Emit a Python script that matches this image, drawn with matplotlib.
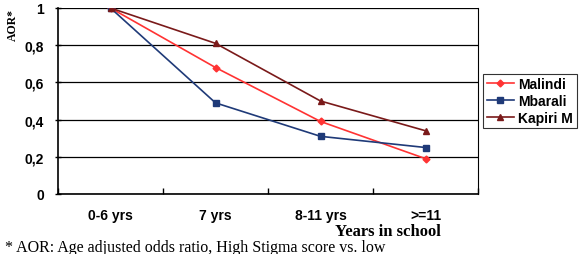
import matplotlib.pyplot as plt
import numpy as np

categories = ['0-6 yrs', '7 yrs', '8-11 yrs', '>=11']
malindi = [1.0, 0.68, 0.39, 0.19]
mbarali = [1.0, 0.49, 0.31, 0.25]
kapiri = [1.0, 0.81, 0.50, 0.34]

fig = plt.figure(figsize=(5.79, 2.55), dpi=100)
ax = fig.add_axes([58 / 579, 1 - 195 / 255, 420 / 579, 186 / 255])

x = np.arange(len(categories))
ax.plot(x, malindi, color='#ff3333', marker='D', markersize=3.5, lw=1.2, label='Malindi')
ax.plot(x, mbarali, color='#1f3a78', marker='s', markersize=4, lw=1.2, label='Mbarali')
ax.plot(x, kapiri, color='#7a1a1a', marker='^', markersize=5, lw=1.2, label='Kapiri M')

tick_font = dict(fontfamily='Liberation Sans', fontweight='bold', fontsize=10)
ax.set_xlim(-0.5, len(categories) - 0.5)
ax.set_ylim(0, 1)
ax.set_yticks(np.arange(0, 1.01, 0.2))
ax.set_yticklabels(['0', '0,2', '0,4', '0,6', '0,8', '1'], **tick_font)
ax.set_xticks(x)
ax.set_xticklabels(categories, **tick_font)
ax.set_xticks(np.arange(-0.5, len(categories), 1), minor=True)
ax.tick_params(axis='x', which='major', length=0, pad=10)
ax.tick_params(axis='x', which='minor', length=4, direction='in', width=1)
ax.tick_params(axis='y', length=4, direction='inout', width=1, pad=8)
ax.grid(axis='y', color='black', lw=0.9)
ax.set_axisbelow(True)
for side in ['left', 'bottom']:
    ax.spines[side].set_linewidth(1.2)
ax.spines['top'].set_visible(False)
ax.spines['right'].set_linewidth(0.8)

fig.text(13 / 579, 1 - 25 / 255, 'AOR*', rotation=90, ha='center', va='center',
         fontfamily='Liberation Serif', fontweight='bold', fontsize=8.5)
fig.text(388 / 579, 1 - 232 / 255, 'Years in school', ha='center', va='center',
         fontfamily='Liberation Serif', fontweight='bold', fontsize=12)

leg = ax.legend(loc='center left', bbox_to_anchor=(1.012, 0.5), frameon=True, fancybox=False,
                edgecolor='black', prop={'family': 'Liberation Sans', 'weight': 'bold', 'size': 10},
                handlelength=2.0, borderpad=0.25, labelspacing=0.2, handletextpad=0.3,
                borderaxespad=0)
leg.get_frame().set_linewidth(0.8)

fig.text(5 / 579, 1 - 248 / 255, '* AOR: Age adjusted odds ratio, High Stigma score vs. low',
         fontfamily='Liberation Serif', fontsize=11.5, va='center')

fig.savefig('out.png', dpi=100)
